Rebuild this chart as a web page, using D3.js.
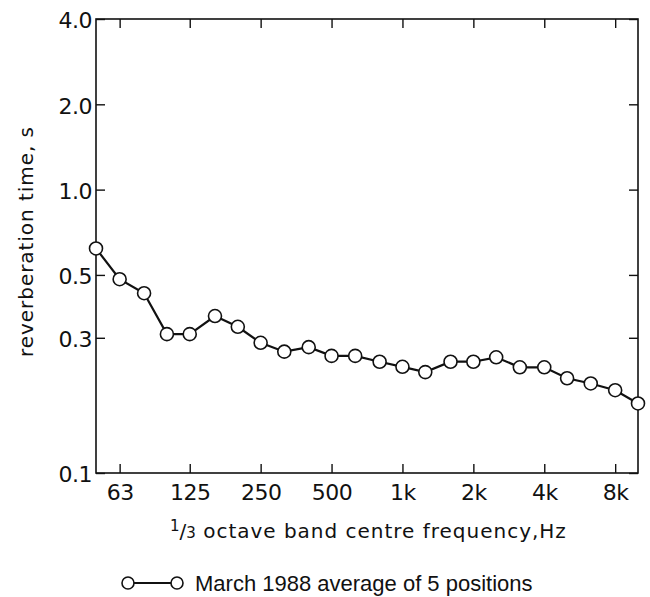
<!DOCTYPE html>
<html>
<head>
<meta charset="utf-8">
<script src="https://cdn.jsdelivr.net/npm/d3@7"></script>
<style>
  body { margin: 0; background: #fff; }
  text { font-family: "DejaVu Sans", sans-serif; fill: #111; }
</style>
</head>
<body>
<script>
// 1/3 octave band centres, Hz
var freqs = [50, 63, 80, 100, 125, 160, 200, 250, 315, 400, 500, 630, 800,
             1000, 1250, 1600, 2000, 2500, 3150, 4000, 5000, 6300, 8000, 10000];
// reverberation time, s
var rt = [0.62, 0.483, 0.431, 0.309, 0.309, 0.358, 0.328, 0.288, 0.268, 0.278, 0.259, 0.259, 0.247,
          0.237, 0.227, 0.247, 0.247, 0.256, 0.236, 0.236, 0.216, 0.207, 0.196, 0.176];
var xTicks = [63, 125, 250, 500, 1000, 2000, 4000, 8000];
var xTickLabels = ["63", "125", "250", "500", "1k", "2k", "4k", "8k"];
var yTicks = [0.1, 0.3, 0.5, 1.0, 2.0, 4.0];
var seriesName = "March 1988 average of 5 positions";

var dataset = freqs.map((f, i) => [f, rt[i]]);

var margin = {top: 19, right: 12, bottom: 124, left: 96},
    width = 638 - margin.left,
    height = 473 - margin.top;

var xScale = d3.scaleLog().domain([50, 10000]).range([0, width]);
var yScale = d3.scaleLog().domain([0.1, 4.0]).range([height, 0]);

var svg = d3.select("body").append("svg")
    .attr("width", 650)
    .attr("height", 597)
  .append("g")
    .attr("transform", "translate(" + margin.left + "," + margin.top + ")");

// frame
svg.append("rect")
   .attr("width", width).attr("height", height)
   .attr("fill", "none").attr("stroke", "#111").attr("stroke-width", 1.6);

var xAxis = d3.axisBottom(xScale).tickValues(xTicks)
    .tickFormat((d, i) => xTickLabels[i]).tickSizeInner(-9).tickSizeOuter(0).tickPadding(11);
var yAxis = d3.axisLeft(yScale).tickValues(yTicks)
    .tickFormat(d3.format(".1f")).tickSizeInner(-9).tickSizeOuter(0).tickPadding(4);

var gx = svg.append("g").attr("transform", "translate(0," + height + ")").call(xAxis);
var gy = svg.append("g").call(yAxis);
svg.append("g").call(d3.axisTop(xScale).tickValues(xTicks).tickFormat("").tickSizeInner(-9).tickSizeOuter(0));
svg.append("g").attr("transform", "translate(" + width + ",0)")
   .call(d3.axisRight(yScale).tickValues(yTicks).tickFormat("").tickSizeInner(-9).tickSizeOuter(0));

svg.selectAll(".domain").remove();
svg.selectAll(".tick line").attr("stroke", "#111").attr("stroke-width", 1.4);
gx.selectAll("text").style("font-size", "22px").attr("fill", "#111").attr("letter-spacing", "-0.5");
gy.selectAll("text").style("font-size", "22px").attr("fill", "#111").attr("letter-spacing", "-0.5").attr("dy", "0.4em");

var line = d3.line().x(d => xScale(d[0])).y(d => yScale(d[1]));
svg.append("path").datum(dataset)
   .attr("d", line).attr("fill", "none").attr("stroke", "#111").attr("stroke-width", 2.2);

svg.selectAll("circle.pt").data(dataset).enter().append("circle")
   .attr("class", "pt")
   .attr("cx", d => xScale(d[0])).attr("cy", d => yScale(d[1]))
   .attr("r", 6.5).attr("fill", "#fff").attr("stroke", "#111").attr("stroke-width", 1.6);

// axis titles
svg.append("text")
   .attr("x", 170 - margin.left).attr("y", 538 - margin.top)
   .style("font-size", "20px")
   .html('<tspan dy="-7" font-size="15">1</tspan><tspan dy="7">/</tspan><tspan font-size="15">3</tspan>' +
         '<tspan textLength="370" lengthAdjust="spacing"> octave band centre frequency,Hz</tspan>');

svg.append("text")
   .attr("transform", "rotate(-90)")
   .attr("x", -(242 - margin.top)).attr("y", -margin.left + 33)
   .attr("text-anchor", "middle").style("font-size", "20px")
   .attr("textLength", 230).attr("lengthAdjust", "spacing")
   .text("reverberation time, s");

// legend
var leg = d3.select("svg").append("g").attr("transform", "translate(128,583)");
leg.append("line").attr("x1", 0).attr("x2", 49).attr("stroke", "#111").attr("stroke-width", 1.8);
leg.selectAll("circle").data([0, 49]).enter().append("circle")
   .attr("cx", d => d).attr("r", 6).attr("fill", "#fff").attr("stroke", "#111").attr("stroke-width", 1.6);
leg.append("text").attr("x", 67).attr("y", 8)
   .style("font-family", '"Liberation Sans", Arial, sans-serif').style("font-size", "22px")
   .text(seriesName);
</script>
</body>
</html>
